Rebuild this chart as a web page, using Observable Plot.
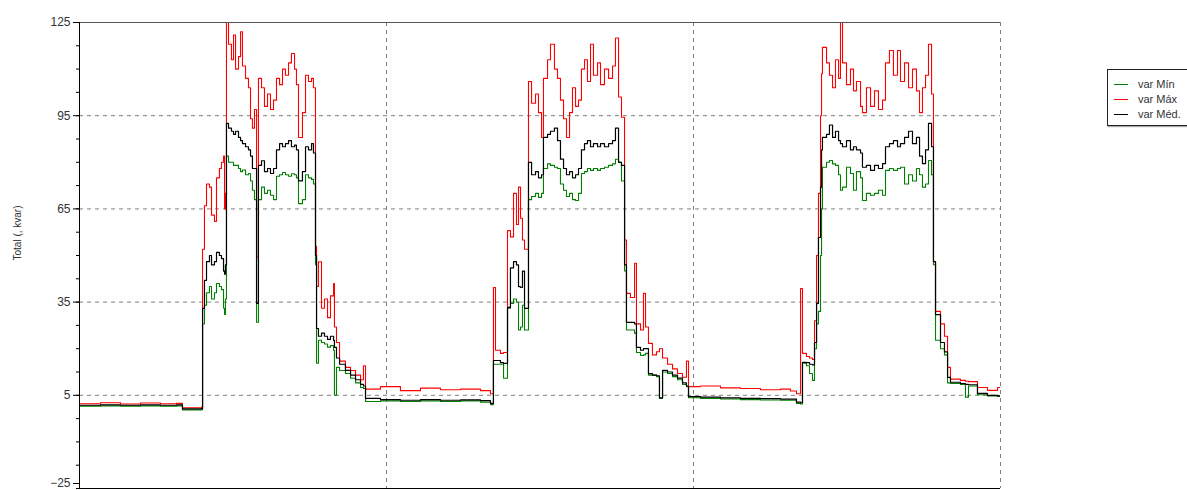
<!DOCTYPE html>
<html><head><meta charset="utf-8">
<script src="https://cdn.jsdelivr.net/npm/d3@7"></script>
<script src="https://cdn.jsdelivr.net/npm/@observablehq/plot@0.6"></script>
<style>
html,body{margin:0;padding:0;background:#fff;overflow:hidden;width:1187px;height:490px;}
#chart{position:absolute;left:0;top:0;}
#legend{position:absolute;left:1107px;top:69px;width:100px;height:55px;border:1px solid #222;box-shadow:1px 1px 1px #aaa;background:#fff;font-family:"Liberation Sans",Arial,sans-serif;font-size:11px;color:#333;}
.row{position:absolute;left:0;height:12px;width:100px;}
.sw{position:absolute;left:6px;top:6px;width:14px;height:0;border-top:1px solid;}
.lab{position:absolute;left:30px;top:0;line-height:12px;white-space:nowrap;}
</style>
</head><body>
<div id="chart"></div>
<div id="legend"></div>
<script>
const seriesNames = ["var Mín", "var Máx", "var Méd."];
const seriesColors = ["#008000", "#ff0000", "#000000"];
const yTicks = [125, 95, 65, 35, 5];
const yTickBottom = [-25];

const hours = [
0,1.64,3.21,4.77,6.33,7.58,8.05,9.54,9.62,9.77,
9.93,10.16,10.32,10.55,10.71,10.94,11.10,11.26,11.34,11.41,
11.49,11.65,11.88,12.04,12.20,12.43,12.59,12.74,12.98,13.21,
13.37,13.52,13.68,13.84,13.99,14.23,14.46,14.70,14.93,15.17,
15.40,15.64,15.87,16.10,16.34,16.57,16.81,16.96,17.12,17.43,
17.67,17.90,18.14,18.29,18.45,18.53,18.68,18.92,19.15,19.39,
19.62,19.86,19.93,20.09,20.33,20.79,21.19,21.58,21.97,22.20,
22.36,23.53,25.09,26.66,28.22,29.79,31.35,32.13,32.36,32.52,
32.91,33.15,33.46,33.69,33.93,34.16,34.32,34.48,34.63,34.79,
35.10,35.34,35.65,35.88,36.12,36.27,36.59,36.82,37.13,37.37,
37.60,37.84,38.07,38.31,38.54,38.78,39.01,39.24,39.48,39.71,
39.95,40.18,40.50,40.73,41.04,41.36,41.67,41.90,42.14,42.37,
42.61,42.76,43.07,43.39,43.54,43.86,44.09,44.25,44.48,44.79,
45.11,45.34,45.58,45.97,46.36,46.75,47.14,47.45,47.61,48.55,
50.11,51.67,53.24,54.80,55.58,56.05,56.37,56.52,56.83,57.07,
57.30,57.46,57.62,57.77,57.93,58.01,58.08,58.40,58.63,58.87,
59.10,59.34,59.49,59.65,59.96,60.27,60.51,60.74,61.06,61.21,
61.52,61.84,62.15,62.46,62.78,63.01,63.32,63.63,63.95,64.18,
64.50,64.81,65.12,65.43,65.67,65.90,66.14,66.37,66.61,66.76,
66.92,67.31,67.62,67.86,68.09,68.87,69.26,69.50,70.20,70.98,
71.77,72];

const varMin = [
1.5,1.6,1.5,1.6,1.5,1.6,0.3,0.4,28,34,
38,40,36,38,41,40,39,33,31,36,
82,80,80,79,79,78,77,77.5,76,76.4,
74,71,68,28.5,68,72,70,71,69.4,68,
75.5,76,76.7,76,75.5,76.3,76,75,66.7,68,
76,75,74.5,73,47,15.3,22.7,22,21.5,20.5,
21,19.5,5,14,13,12,10.5,9,7.5,7.2,
3,3.2,3.0,3.2,3.0,3.2,2.8,2.0,15,15,
15,10.5,33,34.6,36,35,26,27,34,26,
68,69,70,68.7,70,78,79.5,79,78.4,78,
73,71,69,70,68,67.7,70,76.4,77,78,
77.4,78,77.4,78,78.4,79,79.5,81,80,74,
45,26,26,25,18.8,17.8,18,18.5,11.5,11.5,
11,4,12.5,12,11,10,8.5,7.8,4.2,4.0,
3.8,3.6,3.5,3.4,3.4,2.4,2.2,15.3,14.5,12,
9.8,20,28,32,50,65,78.4,80,80.6,79.5,
79,76,71,72,78.4,76.4,71,77,75,67.7,
70,69.4,70,71,69.4,77.4,78,77.4,78,78.4,
73,76,74,78,76,72,73,80.6,76,47,
22.7,20,18,9,8.8,8.5,4.4,8,5.2,4.8,
4.6,4.6];

const varMax = [
2.3,2.6,2.2,2.5,2.3,2.4,1.0,1.2,52,66,
73,72,63,61,75,78,80,82,65,70,
125,118,113,121,110,114,122,111,107,104,
94,91,97,49.5,107,104,98,102,97,100,
107,105,110,108,112,115,110,105,88,96,
108,106,107,104,53,40,48,33,36,30,
37,41,27,22,16,14,13,11.5,10,14.5,
7,7.8,6.5,7.3,6.8,7.0,6.5,5.5,39.7,19.5,
18.5,18.8,58,56,70,60,72,62,55,52,
106,99,102,96,88,107,113,118,110,107,
100,94,88,96,104,98,100,110,113,106,
118,108,112,105,110,107,111,120,101,94.5,
55,37.8,36.5,47.5,28,26,37.8,27,21.7,18,
19,20,17,15,13.5,12,10.8,16,7.8,8.0,
7.4,7.2,6.8,7.0,6.4,5.5,39.4,18.5,17.5,17,
16.5,29,50,70,95,108.5,117,112,108,104,
113,107,125.5,112,105,110,103,106,98,96,
104,98,103,97,100,112,116,108,116,106,
112,104,110,103,96,104,108,118,102,48,
32,28,24,14,10.2,9.8,9.5,9.4,7.5,6.6,
7.5,7.5];

const varMed = [
1.8,1.9,1.8,1.9,1.8,1.9,0.6,0.7,33,42,
48,50,47,48,51,50,49,45,44,47,
92.5,91,90,89,90,88,87,86,85,84,
82,78,78,34.6,79,80.5,77,78,76.4,78,
84,86,85,86,87,85,85.5,84,74,77,
85,84,86,83,50,26.5,24,25,24,23,
24,22.7,20.4,17,15,13,11.5,10,8.5,8,
4,3.6,3.4,3.6,3.4,3.5,3.3,2.4,16.2,16.2,
15.5,15.3,33.3,46,48,47,40,39.7,45,33,
80,76,77,75,76,88,89,90,91,87,
81,78,76,77,75,76,78,84,86,87,
85,86,85,86,85,86,87,91,80,79,
47,28.5,28.5,28,20.4,19.5,20,20,12,11.5,
11.3,4.2,13,12.5,11.5,10.5,9,8,4.6,4.4,
4.2,4.0,3.9,3.8,3.8,2.8,2.6,15.6,15.5,15,
14.8,22,34.6,55.8,72,84,88,89,92,88,
90,87,86,85,87,84,85,84,83,78.4,
79,77.4,79,78,79.6,85,86,87,85,86,
88,90,86,88,82,79.6,84,92.5,85,48,
31,22,19,10.8,9.2,8.8,8.5,8.4,5.6,5.0,
4.8,4.8];

const rows = hours.map((h, i) => ({h, mn: varMin[i], mx: varMax[i], md: varMed[i]}));
const grid = {stroke: "#808080", strokeOpacity: 1, strokeDasharray: "4,4", strokeWidth: 1};

const chart = Plot.plot({
  width: 1187, height: 490,
  marginLeft: 79, marginRight: 187, marginTop: 22, marginBottom: 2,
  x: {domain: [0, 72], axis: null},
  y: {domain: [-25, 125], axis: null},
  style: {fontFamily: "'Liberation Sans', Arial, sans-serif", fontSize: "12px", color: "#333", background: "white"},
  marks: [
    Plot.gridY([95, 65, 35, 5], grid),
    Plot.gridX([24, 48, 72], grid),
    Plot.lineY(rows, {x: "h", y: "mn", stroke: seriesColors[0], strokeWidth: 1.1, curve: "step-after", clip: true}),
    Plot.lineY(rows, {x: "h", y: "mx", stroke: seriesColors[1], strokeWidth: 1.1, curve: "step-after", clip: true}),
    Plot.lineY(rows, {x: "h", y: "md", stroke: seriesColors[2], strokeWidth: 1.2, curve: "step-after", clip: true}),
    Plot.ruleY([125], {stroke: "#555"}),
    Plot.ruleY([-25], {stroke: "#000"}),
    Plot.ruleX([0], {stroke: "#000"}),
    Plot.axisY({ticks: yTicks, tickSize: 6, tickPadding: 3, label: null, stroke: "#000"}),
    Plot.axisY({ticks: yTickBottom, tickSize: 6, tickPadding: 3, label: null, stroke: "#000", textAnchor: "end", dy: -5}),
    Plot.axisY({ticks: d3.range(-25, 125.1, 7.5), tickSize: 3, tickFormat: () => "", label: null, stroke: "#000"}),
    Plot.text(["Total (, kvar)"], {frameAnchor: "left", dx: -62, dy: 5, rotate: -90, fontSize: 10, fill: "#333"})
  ]
});
document.getElementById("chart").appendChild(chart);

const legend = document.getElementById("legend");
seriesNames.forEach((name, i) => {
  const row = document.createElement("div");
  row.className = "row";
  row.style.top = (8 + i * 15) + "px";
  const sw = document.createElement("div");
  sw.className = "sw";
  sw.style.borderTopColor = seriesColors[i];
  const lab = document.createElement("div");
  lab.className = "lab";
  lab.textContent = name;
  row.appendChild(sw); row.appendChild(lab);
  legend.appendChild(row);
});
</script>
</body></html>
